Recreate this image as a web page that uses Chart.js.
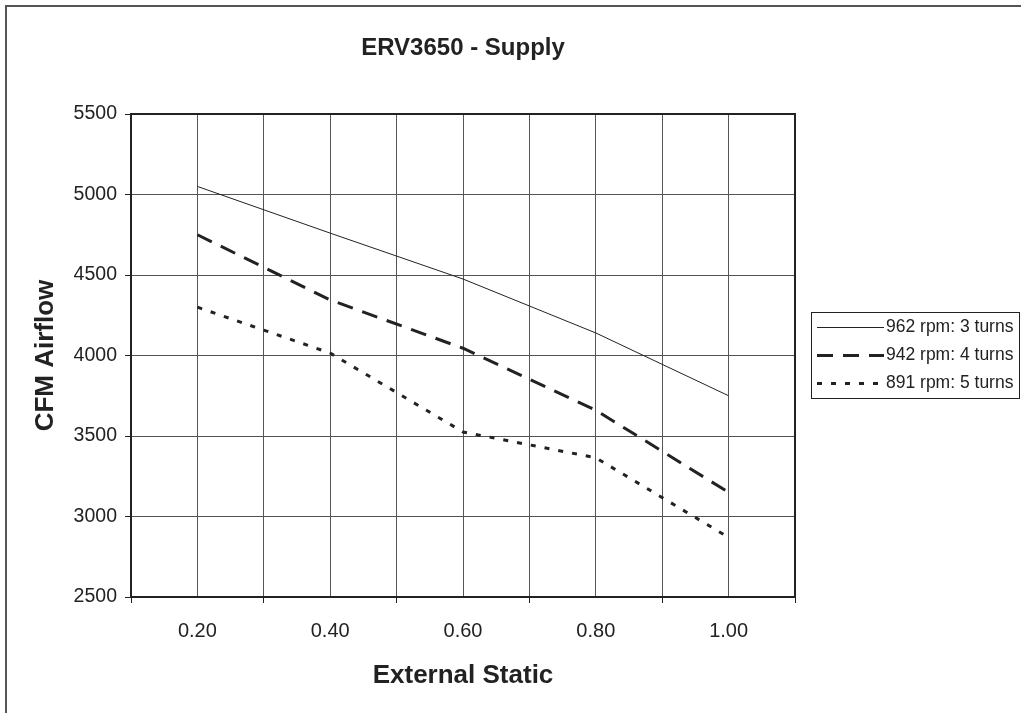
<!DOCTYPE html>
<html>
<head>
<meta charset="utf-8">
<script src="https://cdn.jsdelivr.net/npm/chart.js@4/dist/chart.umd.min.js"></script>
<style>
  html, body { margin: 0; padding: 0; background: #fff; }
  #wrap { width: 1021px; height: 713px; }
</style>
</head>
<body>
<div id="wrap"><canvas id="myChart" width="1021" height="713"></canvas></div>
<script>
// data
const staticValues = [0.2, 0.4, 0.6, 0.8, 1.0];
const staticLabels = ['0.20', '0.40', '0.60', '0.80', '1.00'];
const seriesNames = ['962 rpm: 3 turns', '942 rpm: 4 turns', '891 rpm: 5 turns'];
const rpm962 = [5050, 4760, 4475, 4140, 3750];
const rpm942 = [4750, 4345, 4045, 3660, 3150];
const rpm891 = [4300, 4015, 3525, 3365, 2870];
const yTickLabels = ['2500', '3000', '3500', '4000', '4500', '5000', '5500'];

const ink = '#222';
Chart.defaults.font.family = '"Liberation Sans", Arial, sans-serif';
Chart.defaults.color = ink;

const toPoints = vals => staticValues.map((x, i) => ({ x: x, y: vals[i] }));

// white page + outer frame, dark plot border
const framePlugin = {
  id: 'frame',
  beforeDraw(chart) {
    const ctx = chart.ctx;
    ctx.save();
    ctx.fillStyle = '#fff';
    ctx.fillRect(0, 0, chart.width, chart.height);
    ctx.fillStyle = '#555';
    ctx.fillRect(5, 5, 2, chart.height);
    ctx.fillRect(5, 5, chart.width, 2);
    ctx.restore();
  },
  beforeDatasetsDraw(chart) {
    const { ctx, chartArea: a } = chart;
    ctx.save();
    ctx.strokeStyle = ink;
    ctx.lineWidth = 2;
    ctx.beginPath();
    ctx.moveTo(a.left, a.top);
    ctx.lineTo(a.right, a.top);
    ctx.lineTo(a.right, a.bottom);
    ctx.stroke();
    ctx.restore();
  }
};

// boxed legend at the right, like the original
const boxLegend = {
  id: 'boxLegend',
  afterDraw(chart) {
    const ctx = chart.ctx;
    const bx = 811, by = 312, bw = 208, bh = 86;
    ctx.save();
    ctx.strokeStyle = ink;
    ctx.lineWidth = 1;
    ctx.strokeRect(bx + 0.5, by + 0.5, bw, bh);
    ctx.font = '17.5px "Liberation Sans", Arial, sans-serif';
    ctx.textBaseline = 'middle';
    ctx.fillStyle = ink;
    chart.data.datasets.forEach((ds, i) => {
      const y = by + 15 + i * 28;
      ctx.beginPath();
      ctx.setLineDash(ds.borderDash || []);
      ctx.lineWidth = ds.borderWidth;
      ctx.strokeStyle = ds.borderColor;
      ctx.moveTo(817, y + 0.5);
      ctx.lineTo(884, y + 0.5);
      ctx.stroke();
      ctx.setLineDash([]);
      ctx.fillText(ds.label, 886, y);
    });
    ctx.restore();
  }
};

new Chart(document.getElementById('myChart'), {
  type: 'line',
  data: {
    datasets: [
      { label: seriesNames[0], data: toPoints(rpm962), borderColor: ink, borderWidth: 1, borderDash: [] },
      { label: seriesNames[1], data: toPoints(rpm942), borderColor: ink, borderWidth: 3, borderDash: [16, 10] },
      { label: seriesNames[2], data: toPoints(rpm891), borderColor: ink, borderWidth: 3, borderDash: [5, 9] }
    ]
  },
  options: {
    responsive: false,
    animation: false,
    layout: { padding: { left: 0, top: 0, right: 226, bottom: 0 } },
    elements: { point: { radius: 0 }, line: { tension: 0, fill: false } },
    scales: {
      x: {
        type: 'linear',
        min: 0.1,
        max: 1.1,
        ticks: {
          stepSize: 0.1,
          autoSkip: false,
          maxRotation: 0,
          padding: 16,
          font: { size: 20 },
          color: ink,
          callback: v => {
            const i = staticValues.findIndex(s => Math.abs(s - v) < 1e-6);
            return i >= 0 ? staticLabels[i] : '';
          }
        },
        grid: {
          color: '#555',
          lineWidth: 1,
          tickLength: 6,
          tickColor: c => (c.index % 2 === 0 ? ink : 'rgba(0,0,0,0)')
        },
        border: { color: ink, width: 2 },
        title: { display: true, text: 'External Static', font: { size: 26, weight: 'bold' }, color: ink, padding: 22 },
        afterFit: s => { s.height = 116; }
      },
      y: {
        min: 2500,
        max: 5500,
        ticks: {
          stepSize: 500,
          padding: 8,
          font: { size: 19.5 },
          color: ink,
          callback: v => yTickLabels.find(t => Number(t) === v) || ''
        },
        grid: { color: '#555', lineWidth: 1, tickLength: 6, tickColor: ink },
        border: { color: ink, width: 2 },
        title: { display: true, text: 'CFM Airflow', font: { size: 26, weight: 'bold' }, color: ink, padding: 30 },
        afterFit: s => { s.width = 131; }
      }
    },
    plugins: {
      legend: { display: false },
      tooltip: { enabled: false },
      title: {
        display: true,
        fullSize: false,
        text: 'ERV3650 - Supply',
        color: ink,
        font: { size: 24, weight: 'bold' },
        padding: { top: 34, bottom: 51.2 }
      }
    }
  },
  plugins: [framePlugin, boxLegend]
});
</script>
</body>
</html>
